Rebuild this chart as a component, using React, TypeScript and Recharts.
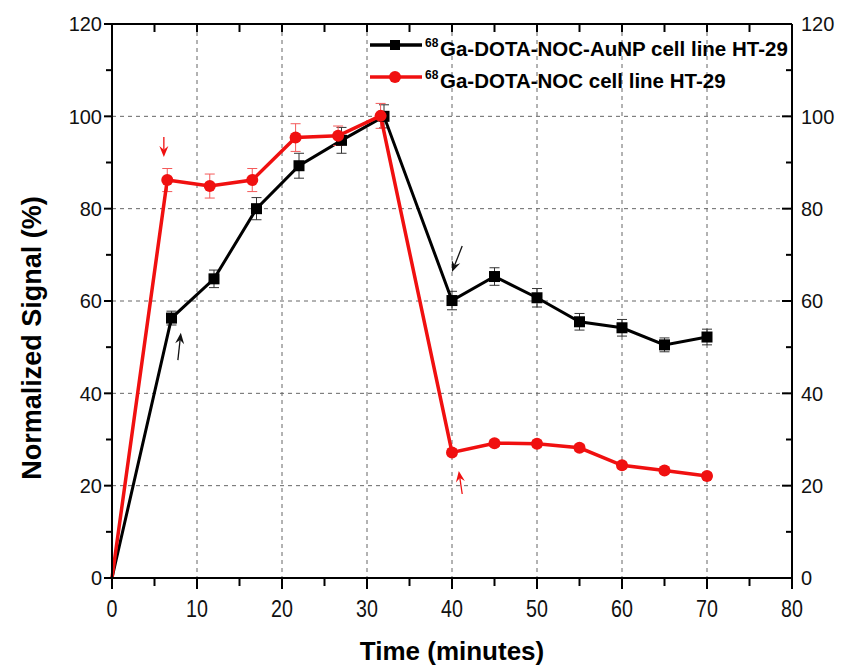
import React from 'react'
import {
  ComposedChart,
  Line,
  XAxis,
  YAxis,
  CartesianGrid,
  ErrorBar,
  ReferenceLine,
  Legend,
} from 'recharts'

// values
const blackTime = [0, 7, 12, 17, 22, 27, 32, 40, 45, 50, 55, 60, 65, 70]
const blackSignal = [0, 56.3, 64.8, 80.0, 89.3, 94.8, 100, 60.1, 65.3, 60.7, 55.5, 54.2, 50.5, 52.2]
const blackErr = [0, 1.5, 1.9, 2.4, 2.7, 2.8, 2.5, 2.0, 1.9, 2.0, 1.8, 1.8, 1.5, 1.7]

const redTime = [0, 6.5, 11.5, 16.5, 21.6, 26.6, 31.6, 40, 45, 50, 55, 60, 65, 70]
const redSignal = [0, 86.2, 84.9, 86.2, 95.4, 95.8, 100.1, 27.2, 29.2, 29.1, 28.2, 24.4, 23.3, 22.1]
const redErr = [0, 2.5, 2.6, 2.5, 3.0, 2.1, 2.7, 0.7, 0.7, 0.7, 0.7, 0.7, 0.7, 0.7]

const xTicks = [0, 5, 10, 15, 20, 25, 30, 35, 40, 45, 50, 55, 60, 65, 70, 75, 80]
const yTicks = [0, 10, 20, 30, 40, 50, 60, 70, 80, 90, 100, 110, 120]
const xGrid = [10, 20, 30, 40, 50, 60, 70]
const yGrid = [20, 40, 60, 80, 100]
const xMax = 80
const yMax = 120

// annotation arrows: tail -> tip
const arrowTails = [
  { x: 6.1, y: 95.5 },
  { x: 7.75, y: 47.2 },
  { x: 41.2, y: 71.9 },
  { x: 41.2, y: 18.2 },
]
const arrowTips = [
  { x: 6.1, y: 91.2 },
  { x: 8.1, y: 53.1 },
  { x: 40.0, y: 66.3 },
  { x: 40.8, y: 23.2 },
]

const RED = '#f01010'
const arrowColors = [RED, '#111', '#111', RED]

const seriesNames = ['Ga-DOTA-NOC-AuNP cell line HT-29', 'Ga-DOTA-NOC cell line HT-29']

const blackData = blackTime.map((x, i) => ({ x, y: blackSignal[i], err: blackErr[i] }))
const redData = redTime.map((x, i) => ({ x, y: redSignal[i], err: redErr[i] }))

const FONT = '"Liberation Sans", Arial, sans-serif'

// layout
const W = 841
const H = 665
const M = { top: 24, right: 49, bottom: 0, left: 0 }
const Y_AXIS_W = 112
const X_AXIS_H = 87
const PLOT_W = W - M.left - M.right - Y_AXIS_W
const PLOT_H = H - M.top - M.bottom - X_AXIS_H

// left axis tick also draws the mirrored right-hand tick and label
const LeftTick = (props: any) => {
  const { x, y, payload } = props
  const major = payload.value % 20 === 0
  const rx = x + PLOT_W
  return (
    <g>
      <path d={`M${x},${y}H${x - (major ? 8 : 6)}`} stroke="#000" strokeWidth={2} fill="none" />
      <path d={`M${rx},${y}H${rx - (major ? 10 : 6)}`} stroke="#000" strokeWidth={2} fill="none" />
      {major && (
        <text x={x - 10} y={y} dy="0.36em" textAnchor="end" fontSize={20} fontFamily={FONT} fill="#111">
          {payload.value}
        </text>
      )}
      {major && (
        <text x={rx + 9} y={y} dy="0.36em" textAnchor="start" fontSize={20} fontFamily={FONT} fill="#111">
          {payload.value}
        </text>
      )}
    </g>
  )
}

// bottom axis tick also draws the inward tick on the top frame
const BottomTick = (props: any) => {
  const { x, y, payload } = props
  const major = payload.value % 10 === 0
  const ty = y - PLOT_H
  return (
    <g>
      <path d={`M${x},${y}V${y + (major ? 11 : 8)}`} stroke="#000" strokeWidth={2} fill="none" />
      <path d={`M${x},${ty}V${ty + 8}`} stroke="#000" strokeWidth={2} fill="none" />
      {major && (
        <text
          transform={`translate(${x},${y + 39}) scale(0.82,1)`}
          textAnchor="middle"
          fontSize={24}
          fontFamily={FONT}
          fill="#111"
        >
          {payload.value}
        </text>
      )}
    </g>
  )
}

const SquareDot = (props: any) => {
  const { cx, cy, index } = props
  if (index === 0 || cx == null) return <g key={`b${index}`} />
  return <rect key={`b${index}`} x={cx - 5.5} y={cy - 5.5} width={11} height={11} fill="#000" />
}

const CircleDot = (props: any) => {
  const { cx, cy, index } = props
  if (index === 0 || cx == null) return <g key={`r${index}`} />
  return <circle key={`r${index}`} cx={cx} cy={cy} r={6} fill={RED} />
}

const Arrow = (color: string) => (props: any) => {
  const { x1, y1, x2, y2 } = props
  if (x1 == null) return <g />
  const ang = Math.atan2(y2 - y1, x2 - x1)
  const len = 11
  const hw = 4.5
  const bx = x2 - Math.cos(ang) * len
  const by = y2 - Math.sin(ang) * len
  const nx = x2 - Math.cos(ang) * len * 0.65
  const ny = y2 - Math.sin(ang) * len * 0.65
  const px = -Math.sin(ang) * hw
  const py = Math.cos(ang) * hw
  return (
    <g>
      <line x1={x1} y1={y1} x2={nx} y2={ny} stroke={color} strokeWidth={1.3} />
      <path d={`M${x2},${y2} L${bx + px},${by + py} L${nx},${ny} L${bx - px},${by - py} Z`} fill={color} />
    </g>
  )
}

const LegendBox = () => (
  <svg width={440} height={70} style={{ overflow: 'visible' }}>
    {[0, 1].map((i) => {
      const cy = 20 + i * 32
      const color = i === 0 ? '#000' : RED
      return (
        <g key={i}>
          <line x1={10} x2={62} y1={cy} y2={cy} stroke={color} strokeWidth={3.5} />
          {i === 0 ? (
            <rect x={30} y={cy - 5} width={10} height={10} fill={color} />
          ) : (
            <circle cx={35} cy={cy} r={6} fill={color} />
          )}
          <text x={65} y={cy + 2} fontSize={12} fontWeight="bold" fontFamily={FONT} fill="#000">
            68
          </text>
          <text x={80} y={cy + 11} fontSize={20.5} fontWeight="bold" fontFamily={FONT} fill="#000">
            {seriesNames[i]}
          </text>
        </g>
      )
    })}
  </svg>
)

export default function App() {
  return (
    <div style={{ position: 'absolute', left: 0, top: 0, width: W, height: H, background: '#fff' }}>
      <ComposedChart width={W} height={H} margin={M}>
        <CartesianGrid
          stroke="#666"
          strokeDasharray="4 4"
          strokeWidth={1}
          horizontalValues={yGrid}
          verticalValues={xGrid}
        />
        <XAxis
          dataKey="x"
          type="number"
          domain={[0, xMax]}
          ticks={xTicks}
          interval={0}
          height={X_AXIS_H}
          tickSize={0}
          tickMargin={0}
          tickLine={false}
          axisLine={{ stroke: '#000', strokeWidth: 2 }}
          tick={<BottomTick />}
          label={{
            value: 'Time (minutes)',
            position: 'insideBottom',
            offset: 5,
            style: { fontSize: 26, fontWeight: 'bold', fontFamily: FONT, fill: '#000' },
          }}
        />
        <YAxis
          type="number"
          domain={[0, yMax]}
          ticks={yTicks}
          interval={0}
          width={Y_AXIS_W}
          tickSize={0}
          tickMargin={0}
          tickLine={false}
          axisLine={{ stroke: '#000', strokeWidth: 2 }}
          tick={<LeftTick />}
          label={{
            value: 'Normalized Signal (%)',
            angle: -90,
            position: 'center',
            dx: -25,
            dy: 37,
            style: { fontSize: 27, fontWeight: 'bold', fontFamily: FONT, fill: '#000', textAnchor: 'middle' },
          }}
        />
        {/* top and right frame */}
        <ReferenceLine y={yMax} stroke="#000" strokeWidth={2} ifOverflow="visible" />
        <ReferenceLine x={xMax} stroke="#000" strokeWidth={2} ifOverflow="visible" />
        <Legend
          layout="vertical"
          align="center"
          verticalAlign="middle"
          wrapperStyle={{ position: 'absolute', top: 25, left: 360, width: 440 }}
          content={() => <LegendBox />}
        />
        <Line
          data={blackData}
          dataKey="y"
          stroke="#000"
          strokeWidth={3}
          dot={SquareDot}
          activeDot={false}
          isAnimationActive={false}
        >
          <ErrorBar dataKey="err" direction="y" width={5} stroke="#333" strokeWidth={1} />
        </Line>
        <Line
          data={redData}
          dataKey="y"
          stroke={RED}
          strokeWidth={3.5}
          dot={CircleDot}
          activeDot={false}
          isAnimationActive={false}
        >
          <ErrorBar dataKey="err" direction="y" width={5} stroke="#f45a5a" strokeWidth={1} />
        </Line>
        {arrowTips.map((tip, i) => (
          <ReferenceLine
            key={i}
            segment={[arrowTails[i], tip]}
            stroke={arrowColors[i]}
            shape={Arrow(arrowColors[i])}
            ifOverflow="visible"
          />
        ))}
      </ComposedChart>
    </div>
  )
}
